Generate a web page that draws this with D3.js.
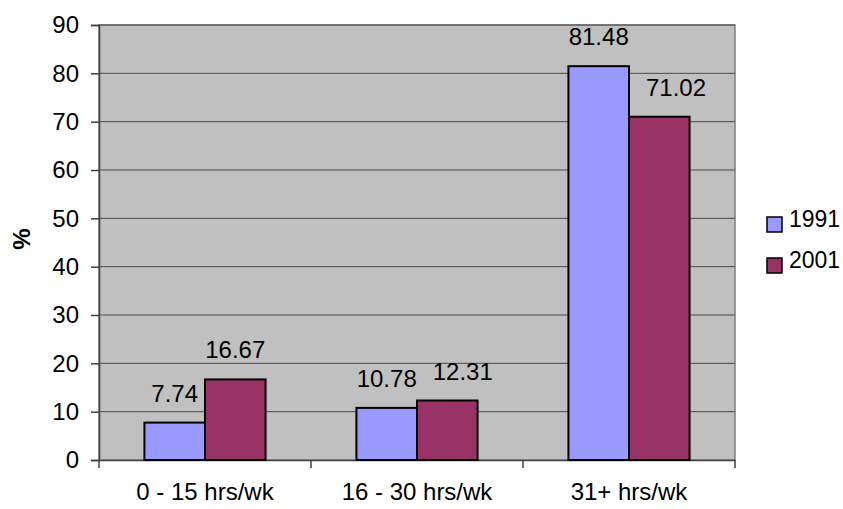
<!DOCTYPE html>
<html lang="en">
<head>
<meta charset="utf-8">
<title>hours per week 1991 / 2001</title>
<style>
  body { margin: 0; background: #fff; }
  text { font-family: "Liberation Sans", Arial, sans-serif; }
</style>
<script src="https://d3js.org/d3.v7.min.js"></script>
</head>
<body>
<div id="chart"></div>
<script>
// data
var categories = ["0 - 15 hrs/wk", "16 - 30 hrs/wk", "31+ hrs/wk"];
var years      = ["1991", "2001"];
var values1991 = [7.74, 10.78, 81.48];
var values2001 = [16.67, 12.31, 71.02];
var yTicks     = [0, 10, 20, 30, 40, 50, 60, 70, 80, 90];
var colors     = ["#9999ff", "#993366"];

var width = 843, height = 509;
// plot area (window.top is taken, so p-prefixed names)
var pLeft = 99, pRight = 735, pTop = 25, pBottom = 460;
var fs = "24px";

var svg = d3.select("#chart").append("svg")
    .attr("width", width).attr("height", height);

var x = d3.scaleBand().domain(categories).range([pLeft, pRight]);
// gap width 150% -> the two bars take 2 / 3.5 of each band
var bw = x.bandwidth();
var inner = d3.scaleBand().domain(years)
    .range([bw * 0.75 / 3.5, bw * 2.75 / 3.5]);
var y = d3.scaleLinear().domain([0, 90]).range([pBottom, pTop]);

// plot background
svg.append("rect")
    .attr("x", pLeft).attr("y", pTop)
    .attr("width", pRight - pLeft).attr("height", pBottom - pTop)
    .attr("fill", "#c0c0c0")
    .attr("stroke", "#808080").attr("stroke-width", 1.5);

// gridlines
svg.append("g").selectAll("line")
    .data(yTicks.slice(1))
    .enter().append("line")
    .attr("x1", pLeft).attr("x2", pRight)
    .attr("y1", function(d) { return y(d); })
    .attr("y2", function(d) { return y(d); })
    .attr("stroke", "#4a4a4a").attr("stroke-width", 1);

// y axis
var yAxis = svg.append("g")
    .attr("transform", "translate(" + pLeft + ",0)")
    .call(d3.axisLeft(y).tickValues(yTicks).tickSize(8).tickPadding(12));
yAxis.attr("font-size", null).attr("font-family", null);
yAxis.select(".domain").attr("stroke", "#404040").attr("stroke-width", 1.5);
yAxis.selectAll(".tick line").attr("stroke", "#404040").attr("stroke-width", 1.5);
yAxis.selectAll("text").style("font-size", fs).attr("fill", "#000");

// x axis
var xAxis = svg.append("g")
    .attr("transform", "translate(0," + pBottom + ")")
    .call(d3.axisBottom(x).tickSize(0).tickPadding(23));
xAxis.attr("font-size", null).attr("font-family", null);
xAxis.select(".domain").attr("stroke", "#404040").attr("stroke-width", 1.5);
xAxis.selectAll("text").style("font-size", fs).attr("fill", "#000");
// tick marks sit on the category boundaries
var bounds = categories.map(function(c) { return x(c); }).concat([pRight]);
xAxis.selectAll(".bound").data(bounds).enter().append("line")
    .attr("class", "bound")
    .attr("x1", function(d) { return d; }).attr("x2", function(d) { return d; })
    .attr("y1", 0).attr("y2", 8)
    .attr("stroke", "#404040").attr("stroke-width", 1.5);

// bars + value labels
var series = [values1991, values2001];
var labelNodes = [[], []];
series.forEach(function(vals, i) {
  var g = svg.append("g");
  g.selectAll("rect").data(vals).enter().append("rect")
    .attr("x", function(d, j) { return x(categories[j]) + inner(years[i]); })
    .attr("y", function(d) { return y(d); })
    .attr("width", inner.bandwidth())
    .attr("height", function(d) { return y(0) - y(d); })
    .attr("fill", colors[i])
    .attr("stroke", "#000").attr("stroke-width", 2);
  g.selectAll("text").data(vals).enter().append("text")
    .attr("x", function(d, j) { return x(categories[j]) + inner(years[i]) + inner.bandwidth() / 2; })
    .attr("y", function(d) { return y(d) - 21; })
    .attr("text-anchor", "middle")
    .style("font-size", fs)
    .text(function(d) { return d.toFixed(2); })
    .each(function() { labelNodes[i].push(this); });
});

// push a 2001 label right when it runs into the 1991 bar or label beside it
var gap = 16;
labelNodes[1].forEach(function(node, j) {
  var b = node.getBBox();
  var lb = labelNodes[0][j].getBBox();
  var barRight = x(categories[j]) + inner("1991") + inner.bandwidth() + 1;
  var barTop = y(values1991[j]);
  var minLeft = b.x;
  if (barTop < b.y + b.height) minLeft = Math.max(minLeft, barRight + gap);
  if (lb.y < b.y + b.height && lb.y + lb.height > b.y)
    minLeft = Math.max(minLeft, lb.x + lb.width + gap);
  if (minLeft > b.x) {
    d3.select(node).attr("x", +d3.select(node).attr("x") + (minLeft - b.x));
  }
});

// y title
svg.append("text")
    .attr("transform", "translate(30,239) rotate(-90)")
    .attr("text-anchor", "middle")
    .style("font-size", fs).attr("font-weight", "bold")
    .text("%");

// legend
var legend = svg.append("g");
years.forEach(function(yr, i) {
  var ly = 217 + i * 41;
  legend.append("rect")
    .attr("x", 767).attr("y", ly)
    .attr("width", 15).attr("height", 15)
    .attr("fill", colors[i]).attr("stroke", "#000").attr("stroke-width", 1.5);
  legend.append("text")
    .attr("x", 789).attr("y", ly + 10)
    .style("font-size", "23px")
    .text(yr);
});
</script>
</body>
</html>
